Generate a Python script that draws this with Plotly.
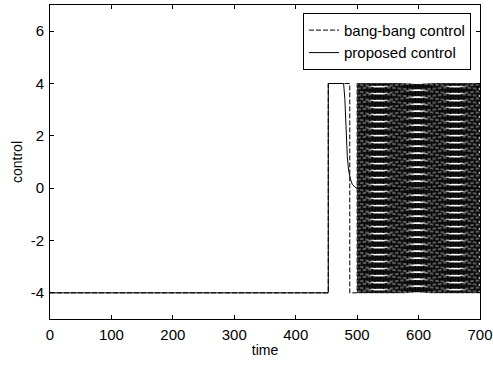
import plotly.graph_objects as go

# Proposed control (solid): time / value breakpoints
proposed_t = [0, 453, 453, 478, 480, 482, 484, 486, 489, 492, 496, 500, 700]
proposed_u = [-4, -4, 4, 4, 3.4, 2.0, 1.2, 0.7, 0.35, 0.15, 0.05, 0.0, 0.0]

# Bang-bang control (dashed): initial switches
bang_t_start = [0, 453, 453, 488, 488, 500]
bang_u_start = [-4, -4, 4, 4, -4, -4]
# chattering region (switching between the two bounds)
chatter_start = 500
chatter_end = 700
chatter_step = 1.0
u_low, u_high = -4, 4

bang_t = list(bang_t_start)
bang_u = list(bang_u_start)
t = chatter_start
level = u_low
while t < chatter_end:
    level = u_high if level == u_low else u_low
    bang_t += [t, t]
    bang_u += [bang_u[-1], level]
    t += chatter_step
bang_t.append(chatter_end)
bang_u.append(bang_u[-1])

x_ticks = [0, 100, 200, 300, 400, 500, 600, 700]
y_ticks = [-4, -2, 0, 2, 4, 6]
y_tick_labels = ["-4", "-2", "0", "2", "4", "6"]

FONT = "Liberation Sans, Arial, Helvetica"

fig = go.Figure()
fig.add_trace(go.Scatter(x=bang_t, y=bang_u, mode="lines", name="bang-bang control",
                         line=dict(color="black", width=1, dash="5px,2px")))
fig.add_trace(go.Scatter(x=proposed_t, y=proposed_u, mode="lines", name="proposed control",
                         line=dict(color="black", width=1)))

axis_common = dict(showline=True, linecolor="black", linewidth=1, mirror="ticks",
                   ticks="inside", ticklen=4, tickcolor="black", showgrid=False,
                   zeroline=False, automargin=False,
                   tickfont=dict(family=FONT, size=15, color="black"))

fig.update_layout(
    width=493, height=366,
    margin=dict(l=50, r=13, t=5, b=47),
    paper_bgcolor="white", plot_bgcolor="white",
    xaxis=dict(range=[0, 700], tickvals=x_ticks, ticklabelstandoff=2,
               title=dict(text="time", standoff=3,
                          font=dict(family=FONT, size=14, color="black")), **axis_common),
    yaxis=dict(range=[-5, 7], tickvals=y_ticks, ticktext=y_tick_labels, ticklabelstandoff=2,
               title=dict(text="control", standoff=4,
                          font=dict(family=FONT, size=14, color="black")), **axis_common),
    legend=dict(x=0.979, y=0.975, xanchor="right", yanchor="top", bgcolor="white",
                bordercolor="black", borderwidth=1, itemwidth=30,
                font=dict(family=FONT, size=15, color="black"),
                tracegroupgap=0),
    showlegend=True,
)

# remove the default page margin so the figure fills the window exactly
fig.write_html("out.html", config={"displayModeBar": False},
               post_script="document.body.style.margin='0';document.body.style.overflow='hidden';")
